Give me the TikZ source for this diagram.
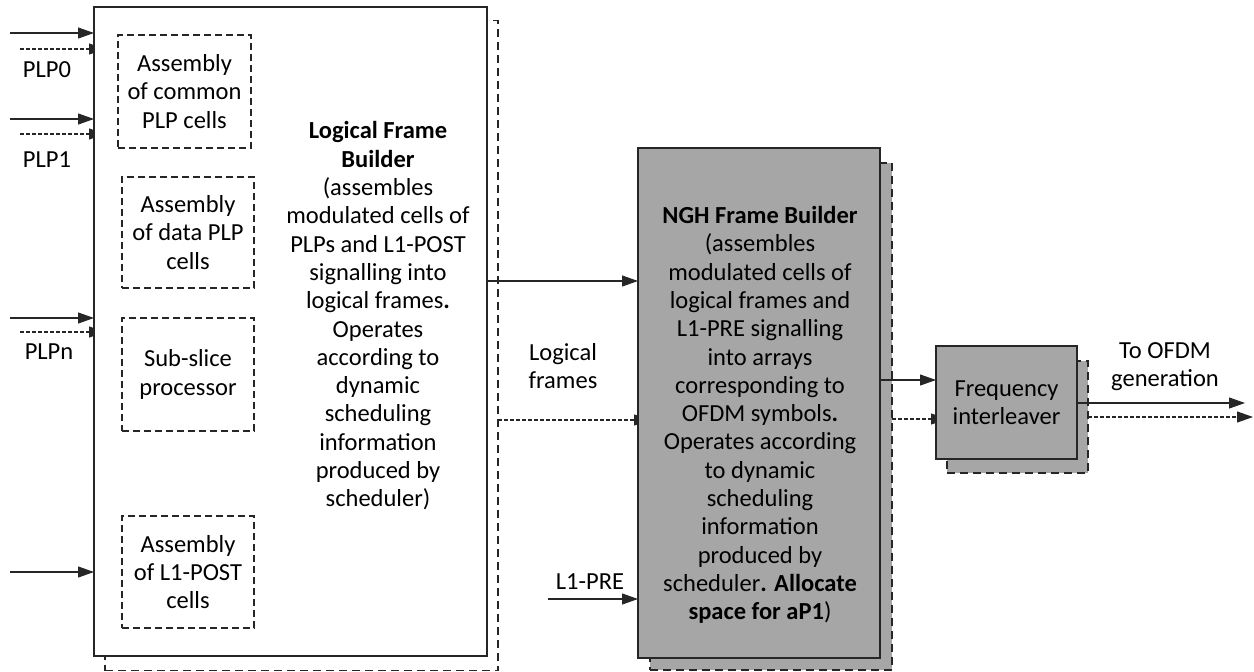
\documentclass[tikz,border=0pt]{standalone}
\usepackage{fontspec}
\setmainfont{Carlito}
\usetikzlibrary{arrows.meta}
\definecolor{ln}{HTML}{262626}
\definecolor{gr}{HTML}{A6A6A6}
\newcommand\myfs{\fontsize{24.5}{28.3}\selectfont}
\tikzset{
  frontbox/.style={draw=ln, line width=2pt, inner sep=0pt, outer sep=0pt, align=center, font=\myfs},
  shadowbox/.style={draw=ln, line width=1.7pt, dash pattern=on 8pt off 5pt, inner sep=0pt, outer sep=0pt},
  innerbox/.style={draw=ln, line width=1.6pt, dash pattern=on 7pt off 4pt, inner sep=0pt, outer sep=0pt, align=center, font=\myfs},
  arr/.style={draw=ln, line width=1.1pt, -{Triangle[length=16pt,width=11pt]}},
  darr/.style={arr, dash pattern=on 4pt off 2pt},
  lbl/.style={align=center, font=\myfs, inner sep=0pt}
}
\begin{document}
\begin{tikzpicture}[x=1pt,y=-1pt]
\useasboundingbox (0,0) rectangle (1254,672);
% shadows
\node[shadowbox, fill=white, minimum width=393pt, minimum height=650pt] (lfbS) at (301.5,345.5) {};
\node[shadowbox, fill=gr, minimum width=242pt, minimum height=507pt] (nghS) at (771,416.5) {};
\node[shadowbox, fill=gr, minimum width=141pt, minimum height=112pt] (fiS) at (1017.5,417) {};
% input coordinates
\coordinate (i0s) at (10,33);  \coordinate (i0d) at (20,49);
\coordinate (i1s) at (10,119); \coordinate (i1d) at (20,134);
\coordinate (ins) at (10,318); \coordinate (ind) at (20,332);
\coordinate (ips) at (10,572);
\coordinate (l1pre) at (548,599);
\coordinate (outs) at (1245,403);
\coordinate (outd) at (1253,417);
% dashed arrows (to shadows, partly hidden by front boxes)
\draw[darr] (i0d) -- (i0d -| lfbS.west);
\draw[darr] (i1d) -- (i1d -| lfbS.west);
\draw[darr] (ind) -- (ind -| lfbS.west);
\draw[darr] (lfbS.east |- 0,420) -- (nghS.west |- 0,420);
\draw[darr] (nghS.east |- 0,419) -- (fiS.west |- 0,419);
\draw[darr] (fiS.east |- outd) -- (outd);
% front boxes
\node[frontbox, fill=white, minimum width=393pt, minimum height=649pt] (lfb) at (290.5,331.5) {};
\node[frontbox, fill=gr, minimum width=242pt, minimum height=510pt] (ngh) at (759,403) {};
\node[frontbox, fill=gr, minimum width=141pt, minimum height=113pt] (fi) at (1006.5,402.5) {Frequency\\interleaver};
% inner boxes
\node[innerbox, minimum width=133pt, minimum height=113pt] (b1) at (184.5,91.5) {Assembly\\of common\\PLP cells};
\node[innerbox, minimum width=132pt, minimum height=111pt] (b2) at (188,232.5) {Assembly\\of data PLP\\cells};
\node[innerbox, minimum width=132pt, minimum height=113pt] (b3) at (188,374.5) {Sub-slice\\processor};
\node[innerbox, minimum width=132pt, minimum height=112pt] (b4) at (188,572) {Assembly\\of L1-POST\\cells};
% texts
\node[lbl] (lfbt) at (378,316) {\textbf{Logical Frame}\\\textbf{Builder}\\(assembles\\modulated cells of\\PLPs and L1-POST\\signalling into\\logical frames\textbf{.}\\Operates\\according to\\dynamic\\scheduling\\information\\produced by\\scheduler)};
\node[lbl] (nght) at (760,415) {\textbf{NGH Frame Builder}\\(assembles\\modulated cells of\\logical frames and\\L1-PRE signalling\\into arrays\\corresponding to\\OFDM symbols\textbf{.}\\Operates according\\to dynamic\\scheduling\\information\\produced by\\scheduler\textbf{. Allocate}\\\textbf{space for aP1})};
\node[lbl] (lf) at (563,366) {Logical\\frames};
\node[lbl] (l1l) at (590,582) {L1-PRE};
\node[lbl] (ofdm) at (1165,367) {To OFDM\\generation};
\node[lbl] (p0) at (47,70) {PLP0};
\node[lbl] (p1) at (47,160) {PLP1};
\node[lbl] (pn) at (49,352) {PLPn};
% solid arrows
\draw[arr] (i0s) -- (i0s -| lfb.west);
\draw[arr] (i1s) -- (i1s -| lfb.west);
\draw[arr] (ins) -- (ins -| lfb.west);
\draw[arr] (ips) -- (ips -| lfb.west);
\draw[arr] (lfb.east |- 0,281) -- (ngh.west |- 0,281);
\draw[arr] (l1pre) -- (l1pre -| ngh.west);
\draw[arr] (ngh.east |- 0,380) -- (fi.west |- 0,380);
\draw[arr] (fi.east |- outs) -- (outs);
\end{tikzpicture}
\end{document}
